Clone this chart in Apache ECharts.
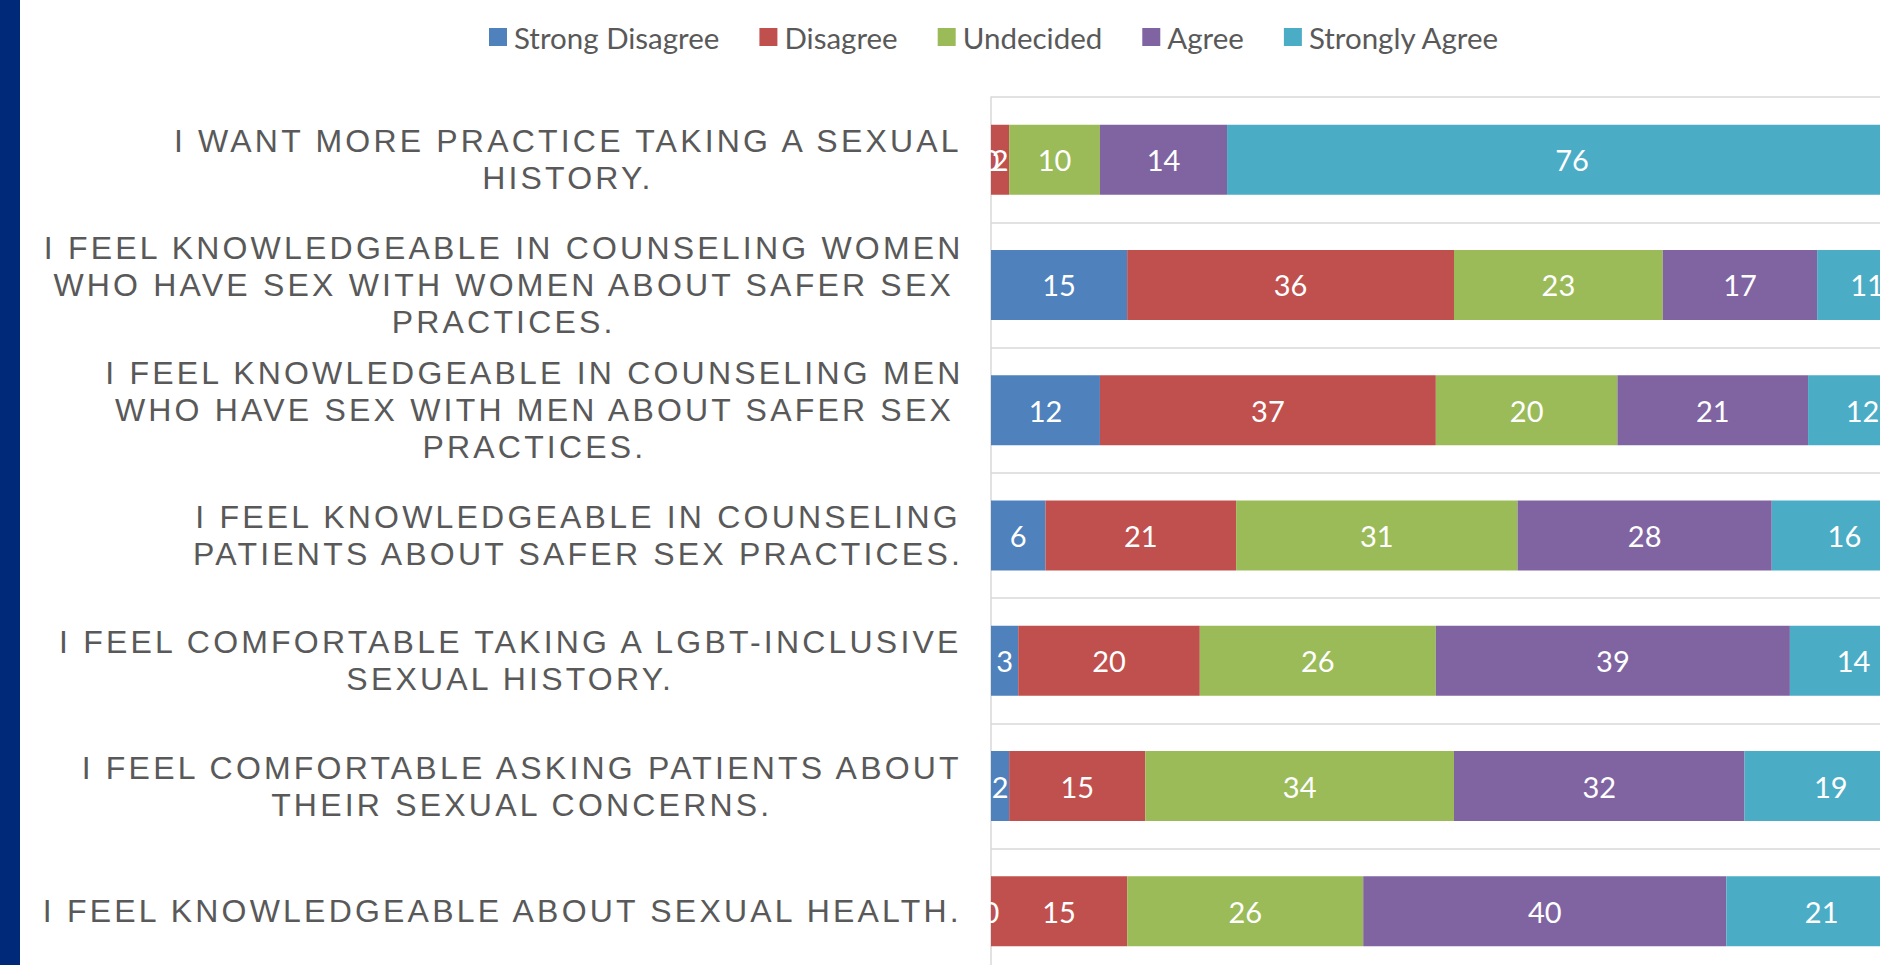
<!DOCTYPE html>
<html>
<head>
<meta charset="utf-8">
<script src="https://cdn.jsdelivr.net/npm/echarts@6/dist/echarts.min.js"></script>
<style>
  body { margin: 0; overflow: hidden; background: #fff; }
  #main { width: 2000px; height: 1000px; }
  /* Excel-style tracking on the question labels */
  #main text[style*="Liberation"], #main text[font-family*="Liberation"] { letter-spacing: 3.2px; }
</style>
</head>
<body>
<div id="main"></div>
<script>
var questions = [
  'I WANT MORE PRACTICE TAKING A SEXUAL\nHISTORY.',
  'I FEEL KNOWLEDGEABLE IN COUNSELING WOMEN\nWHO HAVE SEX WITH WOMEN ABOUT SAFER SEX\nPRACTICES.',
  'I FEEL KNOWLEDGEABLE IN COUNSELING MEN\nWHO HAVE SEX WITH MEN ABOUT SAFER SEX\nPRACTICES.',
  'I FEEL KNOWLEDGEABLE IN COUNSELING\nPATIENTS ABOUT SAFER SEX PRACTICES.',
  'I FEEL COMFORTABLE TAKING A LGBT-INCLUSIVE\nSEXUAL HISTORY.',
  'I FEEL COMFORTABLE ASKING PATIENTS ABOUT\nTHEIR SEXUAL CONCERNS.',
  'I FEEL KNOWLEDGEABLE ABOUT SEXUAL HEALTH.'
]
var seriesNames = ['Strong Disagree', 'Disagree', 'Undecided', 'Agree', 'Strongly Agree']
var strongDisagree = [0, 15, 12, 6, 3, 2, 0]
var disagree = [2, 36, 37, 21, 20, 15, 15]
var undecided = [10, 23, 20, 31, 26, 34, 26]
var agree = [14, 17, 21, 28, 39, 32, 40]
var stronglyAgree = [76, 11, 12, 16, 14, 19, 21]
var colors = ['#4F81BD', '#C0504D', '#9BBB59', '#8064A2', '#4BACC6']

var labelFont = '32px "Liberation Sans"'
var spacing = 3.2

// the css letter-spacing is not known to echarts, so shift each label back
// by how far its widest spaced line sticks out to the right
var ctx = document.createElement('canvas').getContext('2d')
ctx.font = labelFont
var rich = {}
for (var k = 0; k < questions.length; k++) {
  var lines = questions[k].split('\n')
  var W = 0
  for (var j = 0; j < lines.length; j++) W = Math.max(W, ctx.measureText(lines[j]).width)
  var over = -1e9
  for (var j = 0; j < lines.length; j++) {
    var w = ctx.measureText(lines[j]).width
    over = Math.max(over, (w + lines[j].length * spacing) / 2 - W / 2 - spacing)
  }
  rich['q' + k] = {
    align: 'center',
    color: '#595959',
    fontFamily: 'Liberation Sans',
    fontSize: 32,
    lineHeight: 37,
    padding: [0, over, 0, 0]
  }
}

var values = [strongDisagree, disagree, undecided, agree, stronglyAgree]
var series = []
for (var i = 0; i < seriesNames.length; i++) {
  series.push({
    name: seriesNames[i],
    type: 'bar',
    stack: 'total',
    barWidth: 70,
    data: values[i],
    emphasis: { disabled: true },
    label: {
      show: true,
      position: 'inside',
      color: '#fff',
      fontFamily: 'Lato',
      fontSize: 29
    }
  })
}

var option = {
  animation: false,
  color: colors,
  legend: {
    left: 484,
    top: 17,
    itemWidth: 18,
    itemHeight: 18,
    itemGap: 40,
    icon: 'rect',
    textStyle: { color: '#595959', fontFamily: 'Lato', fontSize: 29.5, padding: [0, 0, 0, 2] },
    data: seriesNames
  },
  graphic: [{
    type: 'rect',
    shape: { x: 0, y: 0, width: 20, height: 1000 },
    style: { fill: '#00297A' },
    silent: true
  }],
  grid: { left: 991, top: 97, width: 926, height: 877, containLabel: false },
  xAxis: {
    type: 'value',
    min: 0,
    max: 102,
    axisLabel: { show: false },
    axisLine: { show: false },
    axisTick: { show: false },
    splitLine: { show: false }
  },
  yAxis: {
    type: 'category',
    inverse: true,
    data: questions,
    axisLine: { show: true, lineStyle: { color: '#d9d9d9', width: 1.5 } },
    axisTick: { show: false },
    splitLine: { show: true, lineStyle: { color: '#d9d9d9', width: 1.5 } },
    axisLabel: {
      interval: 0,
      margin: 30,
      formatter: function (v, idx) {
        return v.split('\n').map(function (l) { return '{q' + idx + '|' + l + '}' }).join('\n')
      },
      rich: rich
    }
  },
  series: series
}

var myChart = echarts.init(document.getElementById('main'), null, { renderer: 'svg' })
myChart.setOption(option)
</script>
</body>
</html>
